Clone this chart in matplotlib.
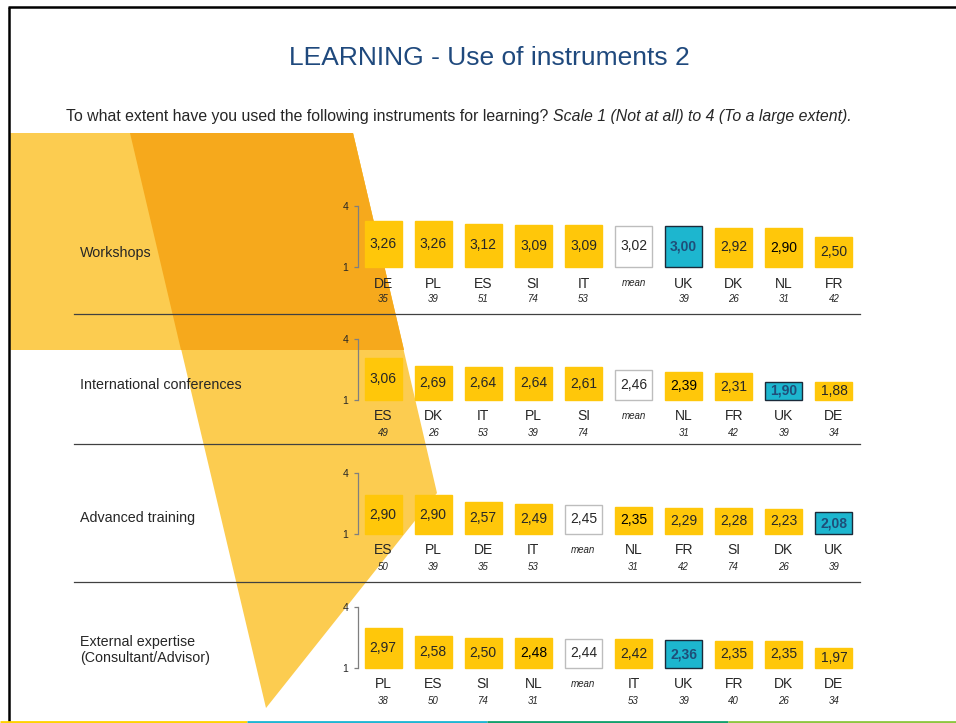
# -*- coding: utf-8 -*-

"""LEARNING - Use of instruments 2, four rows of country boxes."""

import matplotlib
matplotlib.use("Agg")
import matplotlib.pyplot as plt
from matplotlib.patches import Polygon

W, H = 956, 723

row_titles = ["Workshops", "International conferences", "Advanced training",
	"External expertise\n(Consultant/Advisor)"]

workshops_countries = ["DE", "PL", "ES", "SI", "IT", "mean", "UK", "DK", "NL", "FR"]
workshops_values = [3.26, 3.26, 3.12, 3.09, 3.09, 3.02, 3.00, 2.92, 2.90, 2.50]
workshops_n = ["35", "39", "51", "74", "53", "", "39", "26", "31", "42"]

conferences_countries = ["ES", "DK", "IT", "PL", "SI", "mean", "NL", "FR", "UK", "DE"]
conferences_values = [3.06, 2.69, 2.64, 2.64, 2.61, 2.46, 2.39, 2.31, 1.90, 1.88]
conferences_n = ["49", "26", "53", "39", "74", "", "31", "42", "39", "34"]

training_countries = ["ES", "PL", "DE", "IT", "mean", "NL", "FR", "SI", "DK", "UK"]
training_values = [2.90, 2.90, 2.57, 2.49, 2.45, 2.35, 2.29, 2.28, 2.23, 2.08]
training_n = ["50", "39", "35", "53", "", "31", "42", "74", "26", "39"]

expertise_countries = ["PL", "ES", "SI", "NL", "mean", "IT", "UK", "FR", "DK", "DE"]
expertise_values = [2.97, 2.58, 2.50, 2.48, 2.44, 2.42, 2.36, 2.35, 2.35, 1.97]
expertise_n = ["38", "50", "74", "31", "", "53", "39", "40", "26", "34"]

YELLOW = "#FFC70A"
CYAN = "#1DB6CF"
TEXT = "#262626"


def px_axes(fig, left, top, right, bottom):
	"""
	Add an axes given in pixel coordinates of the picture
	"""
	return fig.add_axes([left / W, 1 - bottom / H, (right - left) / W, (bottom - top) / H])


def background(ax):
	"""
	The slide decoration: orange shapes, frame and the coloured strip at the bottom
	"""
	ax.set_xlim(0, W)
	ax.set_ylim(H, 0)
	ax.axis("off")
	light = "#FCCC50"
	dark = "#F6A91C"
	ax.add_patch(Polygon([(10, 133), (353, 133), (404, 350), (10, 350)], closed=True, fc=light, ec="none"))
	ax.add_patch(Polygon([(130, 133), (353, 133), (437, 493), (266, 708)], closed=True, fc=light, ec="none"))
	ax.add_patch(Polygon([(130, 133), (353, 133), (404, 350), (181, 350)], closed=True, fc=dark, ec="none"))
	# frame of the slide
	ax.plot([9, 9], [723, 7], color="black", lw=1.8, solid_capstyle="butt")
	ax.plot([8, 956], [7, 7], color="black", lw=1.8, solid_capstyle="butt")
	# strip at the bottom
	for x0, x1, c in [(0, 247, "#FFD200"), (247, 487, "#1DB6D3"), (487, 728, "#12A06C"), (728, 956, "#8DC63F")]:
		ax.plot([x0, x1], [721.5, 721.5], color=c, lw=2, solid_capstyle="butt")
	# separators between the rows
	for y in [314, 444, 582]:
		ax.plot([74, 860], [y, y], color="#404040", lw=0.9)


def draw_row(fig, bottom, countries, values, n):
	"""
	One row of boxes, scale 1 to 4
	"""
	ax = px_axes(fig, 358, bottom - 61, 859, bottom)
	ax.patch.set_facecolor("none")
	x = list(range(len(values)))
	heights = [v - 1 for v in values]
	faces = []
	edges = []
	for c in countries:
		if c == "mean":
			faces.append("white")
			edges.append("#BDBDBD")
		elif c == "UK":
			faces.append(CYAN)
			edges.append("#1A2A3A")
		else:
			faces.append(YELLOW)
			edges.append(YELLOW)
	ax.bar(x, heights, bottom=1, width=0.74, color=faces, edgecolor=edges, linewidth=1.0, clip_on=False)
	ax.set_xlim(-0.5, 9.5)
	ax.set_ylim(1, 4)
	for s in ["top", "right", "bottom"]:
		ax.spines[s].set_visible(False)
	ax.spines["left"].set_color("#7F7F7F")
	ax.spines["left"].set_linewidth(0.9)
	ax.set_xticks([])
	ax.set_yticks([1, 4])
	ax.tick_params(axis="y", length=3, width=0.9, color="#7F7F7F", pad=4, labelsize=7.5, labelcolor=TEXT)
	for i in x:
		label = "{:.2f}".format(values[i]).replace(".", ",")
		weight = "normal"
		color = TEXT
		if countries[i] == "UK":
			weight = "bold"
			color = "#1F4E79"
		elif countries[i] == "NL":
			color = "black"
		ax.text(i, (1 + values[i]) / 2, label, ha="center", va="center", fontsize=10,
			fontweight=weight, color=color)
		if countries[i] == "mean":
			ax.annotate("mean", xy=(i, 1), xytext=(0, -16), textcoords="offset pixels",
				ha="center", va="center", fontsize=7, style="italic", color=TEXT)
		else:
			ax.annotate(countries[i], xy=(i, 1), xytext=(0, -16.5), textcoords="offset pixels",
				ha="center", va="center", fontsize=10, color=TEXT)
			ax.annotate(n[i], xy=(i, 1), xytext=(0, -32.5), textcoords="offset pixels",
				ha="center", va="center", fontsize=7, style="italic", color=TEXT)
	return ax


def main():
	"""
	This is the main function
	"""
	plt.rcParams["font.family"] = ["Liberation Sans", "DejaVu Sans"]
	fig = plt.figure(figsize=(W / 100, H / 100), dpi=100)
	fig.patch.set_facecolor("white")
	bg = fig.add_axes([0, 0, 1, 1])
	background(bg)

	bg.text(489, 58, "LEARNING - Use of instruments 2", ha="center", va="center",
		fontsize=19, color="#1F497D")
	t1 = bg.text(66, 117, "To what extent have you used the following instruments for learning? ",
		ha="left", va="center", fontsize=11.4, color=TEXT)
	bg.annotate("Scale 1 (Not at all) to 4 (To a large extent).", xy=(1, 0), xycoords=t1,
		ha="left", va="bottom", fontsize=11.4, style="italic", color=TEXT)

	bottoms = [267, 400, 534, 668]
	label_y = [253, 385, 518, 650]
	data = [
		(workshops_countries, workshops_values, workshops_n),
		(conferences_countries, conferences_values, conferences_n),
		(training_countries, training_values, training_n),
		(expertise_countries, expertise_values, expertise_n),
	]
	for k in range(4):
		bg.text(80, label_y[k], row_titles[k], ha="left", va="center", fontsize=10.3,
			color=TEXT, linespacing=1.2)
		draw_row(fig, bottoms[k], *data[k])

	fig.savefig("out.png", dpi=100, facecolor="white")


if __name__ == '__main__':
	main()
